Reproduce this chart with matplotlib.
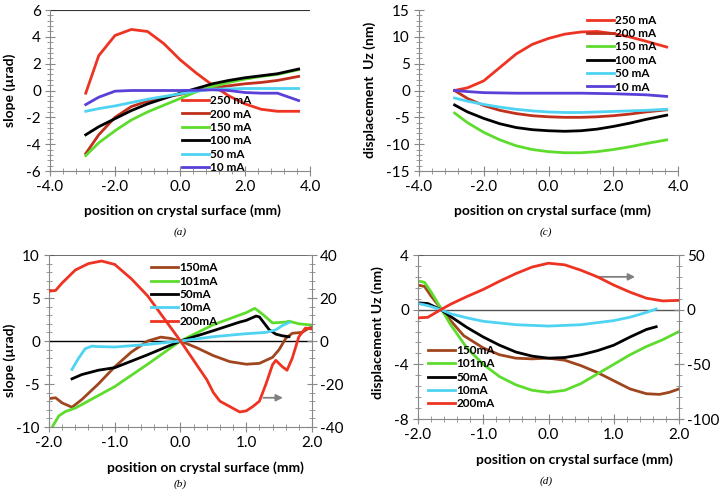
import numpy as np
import matplotlib
matplotlib.use('Agg')
import matplotlib.pyplot as plt
from matplotlib.ticker import MultipleLocator, FormatStrFormatter

plt.rcParams['font.family'] = ['Lato', 'DejaVu Sans']
plt.rcParams['axes.unicode_minus'] = False

# ---- panel (a): slope vs position ----
a_labels = ['250 mA', '200 mA', '150 mA', '100 mA', '50 mA', '10 mA']
a_x = [-2.9, -2.5, -2.0, -1.5, -1.0, -0.5, 0.0, 0.5, 1.0, 1.5, 2.0, 2.5, 3.0, 3.65]
a_250 = [-0.2, 2.6, 4.1, 4.55, 4.4, 3.5, 2.3, 1.3, 0.4, -0.4, -1.0, -1.4, -1.55, -1.55]
a_200 = [-4.7, -3.3, -2.0, -1.2, -0.8, -0.5, -0.3, 0.0, 0.2, 0.35, 0.5, 0.6, 0.75, 1.05]
a_150 = [-4.85, -3.9, -3.0, -2.2, -1.6, -1.1, -0.6, -0.1, 0.3, 0.6, 0.85, 1.05, 1.2, 1.55]
a_100 = [-3.3, -2.7, -2.1, -1.5, -1.0, -0.6, -0.2, 0.15, 0.5, 0.75, 0.95, 1.1, 1.25, 1.6]
a_50 = [-1.55, -1.35, -1.15, -0.9, -0.65, -0.45, -0.25, -0.05, 0.1, 0.12, 0.15, 0.15, 0.15, 0.15]
a_10 = [-1.05, -0.5, -0.05, 0.0, 0.0, 0.0, 0.0, 0.02, 0.05, 0.0, -0.15, -0.2, -0.2, -0.75]

# ---- panel (c): displacement vs position ----
c_x = [-2.9, -2.5, -2.0, -1.5, -1.0, -0.5, 0.0, 0.5, 1.0, 1.5, 2.0, 2.5, 3.0, 3.65]
c_250 = [0.0, 0.5, 1.8, 4.3, 6.8, 8.6, 9.7, 10.5, 10.9, 11.0, 10.6, 10.0, 9.2, 8.1]
c_200 = [0.0, -1.5, -2.8, -3.7, -4.3, -4.7, -4.9, -5.0, -5.0, -4.9, -4.7, -4.4, -4.0, -3.6]
c_150 = [-4.2, -6.0, -7.8, -9.2, -10.3, -11.0, -11.4, -11.6, -11.6, -11.4, -11.0, -10.5, -9.9, -9.2]
c_100 = [-2.7, -4.0, -5.2, -6.2, -6.9, -7.3, -7.5, -7.6, -7.5, -7.2, -6.7, -6.1, -5.4, -4.6]
c_50 = [-1.4, -2.0, -2.6, -3.1, -3.5, -3.8, -4.0, -4.1, -4.1, -4.0, -3.9, -3.8, -3.7, -3.5]
c_10 = [0.0, -0.2, -0.4, -0.45, -0.5, -0.5, -0.5, -0.5, -0.5, -0.55, -0.6, -0.7, -0.8, -1.1]

# ---- panel (b): slope, 200mA on right axis ----
b_labels = ['150mA', '101mA', '50mA', '10mA', '200mA']
b150_x = [-2.0, -1.9, -1.8, -1.65, -1.5, -1.25, -1.0, -0.75, -0.5, -0.3, -0.15, 0.0, 0.25, 0.5,
          0.75, 1.0, 1.2, 1.4, 1.5, 1.6, 1.7, 1.85, 1.95, 2.0]
b150_y = [-6.7, -6.6, -7.2, -7.7, -6.8, -5.0, -3.0, -1.3, 0.0, 0.45, 0.3, 0.0, -0.8, -1.7,
          -2.4, -2.7, -2.6, -1.9, -1.0, 0.3, 0.9, 1.0, 1.5, 1.6]
b101_x = [-1.95, -1.85, -1.75, -1.6, -1.0, -0.5, 0.0, 0.5, 1.0, 1.13, 1.25, 1.4, 1.6, 1.65, 1.8, 2.0]
b101_y = [-10.0, -8.7, -8.2, -7.8, -5.3, -2.7, 0.0, 1.9, 3.3, 3.8, 3.1, 2.1, 2.2, 2.3, 2.0, 1.85]
b50_x = [-1.65, -1.5, -1.25, -1.0, -0.9, -0.5, 0.0, 0.5, 0.9, 1.0, 1.15, 1.2, 1.35, 1.45, 1.55, 1.65]
b50_y = [-4.4, -3.9, -3.4, -3.1, -2.8, -1.6, 0.0, 1.2, 2.2, 2.4, 2.9, 2.8, 1.3, 0.8, 0.6, 0.5]
b10_x = [-1.65, -1.55, -1.45, -1.35, -1.25, -1.0, -0.5, 0.0, 0.5, 1.0, 1.3, 1.45, 1.55, 1.65]
b10_y = [-3.3, -2.0, -0.9, -0.6, -0.65, -0.7, -0.4, 0.0, 0.5, 0.85, 1.0, 1.3, 1.8, 2.15]
b200_x = [-2.0, -1.9, -1.8, -1.6, -1.4, -1.2, -1.0, -0.75, -0.5, -0.25, 0.0, 0.2, 0.4, 0.5, 0.6,
          0.75, 0.9, 1.0, 1.1, 1.2, 1.3, 1.4, 1.45, 1.55, 1.62, 1.7, 1.8, 1.9, 2.0]
b200_y = [23.2, 23.5, 27.0, 33.0, 36.0, 37.2, 35.6, 29.0, 21.0, 10.5, 0.0, -9.0, -18.0, -24.0, -28.0,
          -30.5, -33.0, -32.5, -30.5, -28.0, -20.0, -11.0, -9.0, -12.0, -13.6, -8.0, 2.0, 6.0, 5.6]

# ---- panel (d): displacement, 200mA on right axis ----
d150_x = [-2.0, -1.9, -1.8, -1.65, -1.5, -1.3, -1.0, -0.75, -0.5, -0.25, 0.0, 0.25, 0.5, 0.75,
          1.0, 1.25, 1.5, 1.7, 1.85, 2.0]
d150_y = [1.8, 1.7, 1.0, 0.1, -0.8, -1.9, -2.8, -3.3, -3.55, -3.6, -3.55, -3.7, -4.1, -4.6,
          -5.2, -5.8, -6.15, -6.2, -6.05, -5.8]
d101_x = [-2.0, -1.9, -1.8, -1.65, -1.5, -1.25, -1.0, -0.75, -0.5, -0.25, 0.0, 0.25, 0.5, 0.75,
          1.0, 1.25, 1.5, 1.75, 2.0]
d101_y = [2.1, 2.0, 1.3, 0.1, -1.1, -2.8, -4.0, -4.9, -5.5, -5.9, -6.05, -5.9, -5.4, -4.7,
          -4.0, -3.3, -2.7, -2.2, -1.6]
d50_x = [-2.0, -1.85, -1.65, -1.5, -1.25, -1.0, -0.75, -0.5, -0.25, 0.0, 0.25, 0.5, 0.75, 1.0,
         1.25, 1.5, 1.65]
d50_y = [0.5, 0.45, 0.0, -0.5, -1.3, -2.0, -2.6, -3.1, -3.4, -3.55, -3.5, -3.3, -3.0, -2.6,
         -2.0, -1.45, -1.25]
d10_x = [-2.0, -1.85, -1.65, -1.5, -1.25, -1.0, -0.5, 0.0, 0.5, 1.0, 1.25, 1.5, 1.65]
d10_y = [0.45, 0.3, 0.0, -0.3, -0.6, -0.85, -1.1, -1.2, -1.1, -0.8, -0.55, -0.2, 0.05]
d200_x = [-2.0, -1.85, -1.65, -1.5, -1.25, -1.0, -0.75, -0.5, -0.25, 0.0, 0.25, 0.5, 0.75, 1.0,
          1.25, 1.5, 1.75, 2.0]
d200_y = [-7.5, -7.0, 0.0, 5.0, 12.0, 18.5, 26.0, 33.0, 39.0, 42.5, 41.0, 36.0, 30.0, 22.5,
          16.0, 10.5, 8.0, 8.5]

RED = '#ee3322'
DRED = '#c0301c'
GREEN = '#5edc2e'
BLACK = '#000000'
CYAN = '#4fd3f2'
PURPLE = '#5a3fd8'
BROWN = '#a0461e'
AXC = '#888888'
LW = 2.0
TICK = 11

W, H = 720, 498
fig = plt.figure(figsize=(W / 100, H / 100), dpi=100)


def box(l, r, t, b):
    return [l / W, 1 - b / H, (r - l) / W, (b - t) / H]


def style(ax, xmaj, xmin, ymaj, ymin):
    for s in ['top', 'right']:
        ax.spines[s].set_visible(False)
    ax.spines['left'].set_color(AXC)
    ax.spines['bottom'].set_color(AXC)
    ax.xaxis.set_major_locator(MultipleLocator(xmaj))
    ax.xaxis.set_minor_locator(MultipleLocator(xmin))
    ax.yaxis.set_major_locator(MultipleLocator(ymaj))
    ax.yaxis.set_minor_locator(MultipleLocator(ymin))
    ax.xaxis.set_major_formatter(FormatStrFormatter('%.1f'))
    ax.yaxis.set_major_formatter(FormatStrFormatter('%d'))
    ax.tick_params(which='major', direction='inout', length=7, color=AXC, labelsize=TICK, pad=3)
    ax.tick_params(which='minor', direction='inout', length=4, color=AXC)


def style_right(ax2, ymaj, ymin):
    for s in ['top', 'left', 'bottom']:
        ax2.spines[s].set_visible(False)
    ax2.spines['right'].set_color(AXC)
    ax2.yaxis.set_major_locator(MultipleLocator(ymaj))
    ax2.yaxis.set_minor_locator(MultipleLocator(ymin))
    ax2.tick_params(which='major', direction='inout', length=7, color=AXC, labelsize=TICK, pad=2)
    ax2.tick_params(which='minor', direction='inout', length=4, color=AXC)


leg_kw = dict(frameon=False, handlelength=2.3, handletextpad=0.1, labelspacing=0.2,
              borderaxespad=0, prop={'weight': 'bold', 'size': 8.5})

# (a)
ax = fig.add_axes(box(50, 310, 10, 171))
for ys, c, lab in zip([a_250, a_200, a_150, a_100, a_50, a_10],
                      [RED, DRED, GREEN, BLACK, CYAN, PURPLE], a_labels):
    ax.plot(a_x, ys, color=c, lw=LW, label=lab)
ax.axhline(6, color='#333333', lw=0.8)
ax.set_xlim(-4, 4)
ax.set_ylim(-6, 6)
style(ax, 2, 0.4, 2, 0.4)
ax.legend(loc='upper left', bbox_to_anchor=(0.49, 0.5), **leg_kw)

# (c)
ax = fig.add_axes(box(419, 678, 10, 171))
for ys, c, lab in zip([c_250, c_200, c_150, c_100, c_50, c_10],
                      [RED, DRED, GREEN, BLACK, CYAN, PURPLE], a_labels):
    ax.plot(c_x, ys, color=c, lw=LW, label=lab)
ax.set_xlim(-4, 4)
ax.set_ylim(-15, 15)
style(ax, 2, 0.4, 5, 1)
ax.legend(loc='upper left', bbox_to_anchor=(0.63, 1.0), **leg_kw)

# (b)
ax = fig.add_axes(box(49, 312, 255, 427))
ax.axhline(10, color='#555555', lw=1.2)
ax.axhline(0, color='#000000', lw=1.0)
h = []
h += ax.plot(b150_x, b150_y, color=BROWN, lw=LW)
h += ax.plot(b101_x, b101_y, color=GREEN, lw=LW)
h += ax.plot(b50_x, b50_y, color=BLACK, lw=LW)
h += ax.plot(b10_x, b10_y, color=CYAN, lw=LW)
ax.set_xlim(-2, 2)
ax.set_ylim(-10, 10)
style(ax, 1, 0.2, 5, 1)
ax2 = ax.twinx()
h += ax2.plot(b200_x, b200_y, color=RED, lw=LW)
ax2.set_ylim(-40, 40)
style_right(ax2, 20, 4)
ax.annotate('', xy=(1.6, -6.6), xytext=(1.22, -6.6),
            arrowprops=dict(arrowstyle='-|>', color='#808080', lw=1.3, mutation_scale=10))
ax2.legend(h, b_labels, loc='upper left', bbox_to_anchor=(0.37, 0.985), **leg_kw)

# (d)
ax = fig.add_axes(box(418, 679, 255, 419))
ax.axhline(4, color='#555555', lw=1.2)
ax.axhline(0, color='#555555', lw=1.0)
h = []
h += ax.plot(d150_x, d150_y, color=BROWN, lw=LW)
h += ax.plot(d101_x, d101_y, color=GREEN, lw=LW)
h += ax.plot(d50_x, d50_y, color=BLACK, lw=LW)
h += ax.plot(d10_x, d10_y, color=CYAN, lw=LW)
ax.set_xlim(-2, 2)
ax.set_ylim(-8, 4)
style(ax, 1, 0.2, 4, 0.8)
ax2 = ax.twinx()
h += ax2.plot(d200_x, d200_y, color=RED, lw=LW)
ax2.set_ylim(-100, 50)
style_right(ax2, 50, 10)
ax.annotate('', xy=(1.37, 2.4), xytext=(0.69, 2.4),
            arrowprops=dict(arrowstyle='-|>', color='#808080', lw=1.3, mutation_scale=10))
ax2.legend(h, b_labels, loc='lower left', bbox_to_anchor=(0.02, 0.03), **leg_kw)

# axis titles and captions
xl = 'position on crystal surface (mm)'
lab = dict(weight='bold', size=10, ha='center', va='center')
fig.text(182 / W, 1 - 211 / H, xl, **lab)
fig.text(552 / W, 1 - 211 / H, xl, **lab)
fig.text(205 / W, 1 - 468 / H, xl, **lab)
fig.text(574 / W, 1 - 460 / H, xl, **lab)
fig.text(10 / W, 1 - 90 / H, 'slope (\u00b5rad)', rotation=90, **lab)
fig.text(370 / W, 1 - 90 / H, 'displacement  Uz (nm)', rotation=90, **lab)
fig.text(10 / W, 1 - 360 / H, 'slope (\u00b5rad)', rotation=90, **lab)
fig.text(378 / W, 1 - 333 / H, 'displacement Uz (nm)', rotation=90, **lab)

cap = dict(family='Liberation Serif', style='italic', size=8, ha='center', va='center')
fig.text(180 / W, 1 - 232 / H, '(a)', **cap)
fig.text(546 / W, 1 - 232 / H, '(c)', **cap)
fig.text(180 / W, 1 - 484 / H, '(b)', **cap)
fig.text(546 / W, 1 - 481 / H, '(d)', **cap)

fig.savefig('out.png', dpi=100)
